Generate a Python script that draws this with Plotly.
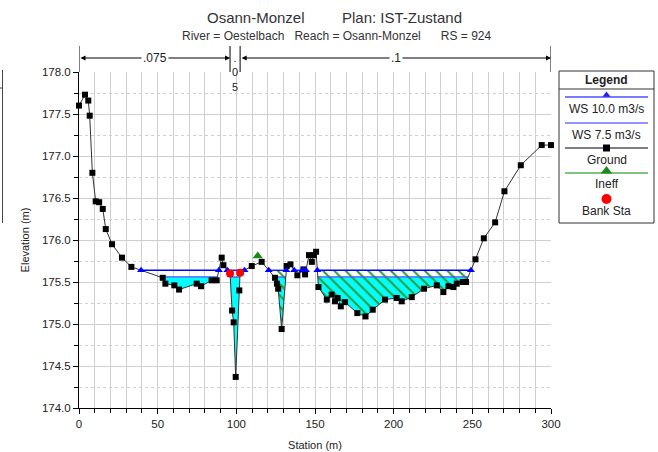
import plotly.graph_objects as go

# ---------------- data ----------------
ground_x = [0, 3.8, 5.9, 6.8, 8.5, 10.6, 12.8, 15.1, 17.0, 21.0, 27.3, 33.3,
            53.2, 54.9, 60.6, 63.6, 74.8, 77.6, 84.3, 87.5, 90.7, 91.8,
            96.0, 97.3, 98.3, 99.6, 101.9, 102.4, 109.8, 116.1,
            124.6, 125.8, 126.6, 128.8, 132.0, 134.4, 138.8, 142.6, 143.7,
            146.2, 148.0, 149.2, 150.7, 152.2, 157.5, 160.6, 162.7, 164.4,
            166.4, 169.1, 176.9, 182.1, 186.7, 194.5, 201.9, 205.1, 211.5,
            219.3, 227.4, 231.6, 234.8, 238.0, 240.1, 243.9, 246.0, 252.0,
            257.3, 264.5, 270.4, 280.8, 294.1, 300.0]
ground_y = [177.60, 177.73, 177.66, 177.48, 176.80, 176.46, 176.45, 176.37, 176.13, 175.95, 175.79, 175.68,
            175.55, 175.48, 175.46, 175.41, 175.48, 175.45, 175.52, 175.52, 175.79, 175.70,
            175.60, 175.16, 175.02, 174.37, 175.40, 175.61, 175.69, 175.74,
            175.55, 175.48, 175.42, 174.94, 175.69, 175.71, 175.58, 175.65, 175.59,
            175.82, 175.74, 175.82, 175.86, 175.44, 175.29, 175.35, 175.27, 175.31,
            175.21, 175.26, 175.13, 175.09, 175.17, 175.29, 175.31, 175.27, 175.32,
            175.42, 175.46, 175.38, 175.45, 175.44, 175.48, 175.50, 175.50, 175.77,
            176.02, 176.21, 176.58, 176.89, 177.13, 177.13]
ws10 = 175.64          # WS 10.0 m3/s
ws75 = 175.56          # WS 7.5 m3/s
bank_x = [96.0, 102.4]
ineff_x = [113.6]
ineff_y = [175.81]
n_values = [".075", ".05", ".1"]
n_breaks = [0, 96.0, 102.4, 300]

W, H = 658, 452
def px(x):  # figure pixel -> paper x
    return x / W
def py(y):  # figure pixel -> paper y
    return 1 - y / H

# ---------------- geometry helpers ----------------
def interp(x, xs, ys):
    for i in range(len(xs) - 1):
        if xs[i] <= x <= xs[i + 1]:
            t = (x - xs[i]) / (xs[i + 1] - xs[i]) if xs[i + 1] != xs[i] else 0
            return ys[i] + t * (ys[i + 1] - ys[i])
    return ys[-1]

def densify(xs, ys, levels, splits):
    out = [(xs[0], ys[0])]
    for i in range(len(xs) - 1):
        x0, y0, x1, y1 = xs[i], ys[i], xs[i + 1], ys[i + 1]
        extra = []
        for h in levels:
            if (y0 - h) * (y1 - h) < 0:
                extra.append(x0 + (h - y0) / (y1 - y0) * (x1 - x0))
        for s in splits:
            if x0 < s < x1:
                extra.append(s)
        for xe in sorted(extra):
            t = (xe - x0) / (x1 - x0)
            out.append((xe, y0 + t * (y1 - y0)))
        out.append((x1, y1))
    return out

dense = densify(ground_x, ground_y, [ws10, ws75], ineff_x)

def runs_below(h, a, b):
    runs, cur = [], []
    for (x, y) in dense:
        if a - 1e-9 <= x <= b + 1e-9 and y <= h + 1e-9:
            cur.append((x, y))
        else:
            if len(cur) > 1:
                runs.append(cur)
            cur = []
    if len(cur) > 1:
        runs.append(cur)
    return runs

def poly_below(h, a, b):
    X, Y = [], []
    for r in runs_below(h, a, b):
        X += [r[0][0]] + [p[0] for p in r] + [r[-1][0], None]
        Y += [h] + [p[1] for p in r] + [h, None]
    return X, Y

def poly_band(h1, h2, a, b):
    X, Y = [], []
    for r in runs_below(h2, a, b):
        X += [r[0][0]] + [p[0] for p in r] + [r[-1][0], None]
        Y += [h2] + [max(p[1], h1) for p in r] + [h2, None]
    return X, Y

def level_line(h):
    X, Y, MX, MY = [], [], [], []
    for r in runs_below(h, 0, 300):
        X += [r[0][0], r[-1][0], None]
        Y += [h, h, None]
        MX += [r[0][0], r[-1][0]]
        MY += [h, h]
    return X, Y, MX, MY

split = ineff_x[0]
green = "#2e9a2e"

fig = go.Figure()

# fills
bx, by = poly_band(ws75, ws10, split, 300)
fig.add_trace(go.Scatter(x=bx, y=by, mode="lines", fill="toself", line=dict(width=0),
                         fillcolor="white",
                         fillpattern=dict(shape="\\", fgcolor=green, bgcolor="white", size=8, solidity=0.25),
                         hoverinfo="skip", showlegend=False))
cx, cy = poly_below(ws75, split, 300)
fig.add_trace(go.Scatter(x=cx, y=cy, mode="lines", fill="toself", line=dict(width=0),
                         fillcolor="#00ffff",
                         fillpattern=dict(shape="\\", fgcolor=green, bgcolor="#00ffff", size=8, solidity=0.25),
                         hoverinfo="skip", showlegend=False))
lx, ly = poly_below(ws75, 0, split)
fig.add_trace(go.Scatter(x=lx, y=ly, mode="lines", fill="toself", line=dict(width=0),
                         fillcolor="#00ffff", hoverinfo="skip", showlegend=False))

# water surfaces
x75, y75, _, _ = level_line(ws75)
fig.add_trace(go.Scatter(x=x75, y=y75, mode="lines", line=dict(color="#4f4fff", width=1.3),
                         hoverinfo="skip", showlegend=False))
x10, y10, mx10, my10 = level_line(ws10)
fig.add_trace(go.Scatter(x=x10, y=y10, mode="lines", line=dict(color="#0000ff", width=1.3),
                         hoverinfo="skip", showlegend=False))

# ground
fig.add_trace(go.Scatter(x=ground_x, y=ground_y, mode="lines+markers",
                         line=dict(color="#333333", width=1),
                         marker=dict(symbol="square", size=6, color="black"),
                         cliponaxis=False, showlegend=False))
fig.add_trace(go.Scatter(x=mx10, y=my10, mode="markers",
                         marker=dict(symbol="triangle-up", size=7, color="#0000ff"),
                         showlegend=False))
# bank stations
bank_y = [interp(b, ground_x, ground_y) for b in bank_x]
fig.add_trace(go.Scatter(x=bank_x, y=bank_y, mode="markers",
                         marker=dict(symbol="circle", size=8, color="#ff0000"),
                         showlegend=False))
# ineffective
fig.add_trace(go.Scatter(x=ineff_x, y=ineff_y, mode="markers",
                         marker=dict(symbol="triangle-up", size=9, color="#1a8a1a"),
                         showlegend=False))

# ---------------- legend (drawn in its own little axes) ----------------
LX0, LX1 = 565, 648
leg = [
    (97, "#4f4fff", "triangle-up", "#2020ff", 7),
    (123, "#6f6fff", None, None, 0),
    (148, "#555555", "square", "black", 7),
    (173, "#55b055", "triangle-up", "#1a8a1a", 10),
]
for yy, lc, sym, mc, ms in leg:
    fig.add_trace(go.Scatter(x=[LX0, LX1], y=[yy, yy], xaxis="x2", yaxis="y2", mode="lines",
                             line=dict(color=lc, width=1.5), showlegend=False, hoverinfo="skip"))
    if sym:
        fig.add_trace(go.Scatter(x=[(LX0 + LX1) / 2], y=[yy - (2 if sym == "triangle-up" else 0)],
                                 xaxis="x2", yaxis="y2", mode="markers",
                                 marker=dict(symbol=sym, size=ms, color=mc),
                                 showlegend=False, hoverinfo="skip"))
fig.add_trace(go.Scatter(x=[(LX0 + LX1) / 2], y=[199], xaxis="x2", yaxis="y2", mode="markers",
                         marker=dict(symbol="circle", size=10, color="#ff0000"),
                         showlegend=False, hoverinfo="skip"))

font = "Liberation Sans, Arial, sans-serif"
ann = []
for txt, yy, bold in [("Legend", 80, True), ("WS 10.0 m3/s", 109, False), ("WS 7.5 m3/s", 135, False),
                      ("Ground", 160, False), ("Ineff", 184, False), ("Bank Sta", 211, False)]:
    ann.append(dict(x=px(606.5), y=py(yy), xref="paper", yref="paper", showarrow=False,
                    text=f"<b>{txt}</b>" if bold else txt, font=dict(size=12, color="#222", family=font),
                    xanchor="center", yanchor="middle"))

shapes = [
    dict(type="rect", xref="paper", yref="paper", x0=px(559), x1=px(654), y0=py(223), y1=py(71),
         line=dict(color="#333", width=1)),
    dict(type="line", xref="paper", yref="paper", x0=px(559), x1=px(654), y0=py(89), y1=py(89),
         line=dict(color="#333", width=1)),
    # cropped artefact at left edge
    dict(type="line", xref="paper", yref="paper", x0=px(2.5), x1=px(2.5), y0=py(70), y1=py(223),
         line=dict(color="#444", width=1)),
    dict(type="line", xref="paper", yref="paper", x0=px(0), x1=px(3), y0=py(88), y1=py(88),
         line=dict(color="#444", width=1)),
]

# Manning's n bars on top
ARROW_Y = 58
for b in n_breaks:
    shapes.append(dict(type="line", xref="x", yref="paper", x0=b, x1=b, y0=py(46), y1=py(72),
                       line=dict(color="black", width=1)))
for i in (0, 2):
    a, b = n_breaks[i], n_breaks[i + 1]
    ann.append(dict(x=b, y=py(ARROW_Y), ax=a, ay=0, xref="x", yref="paper", axref="x", ayref="pixel",
                    text="", showarrow=True, arrowhead=2, arrowside="end+start", arrowsize=1,
                    arrowwidth=1, arrowcolor="black"))
    ann.append(dict(x=(a + b) / 2, y=py(ARROW_Y), xref="x", yref="paper", text=n_values[i],
                    showarrow=False, bgcolor="white", font=dict(size=12, color="#222", family=font),
                    xanchor="center", yanchor="middle", borderpad=1))
mid = (n_breaks[1] + n_breaks[2]) / 2
ann.append(dict(x=mid, y=py(73), xref="x", yref="paper", text="<br>".join(list(n_values[1])),
                showarrow=False, font=dict(size=11, color="#222", family=font),
                xanchor="center", yanchor="middle", borderpad=0))

# titles
ann.append(dict(x=px(256), y=py(17), xref="paper", yref="paper", text="Osann-Monzel", showarrow=False,
                font=dict(size=15, color="#333", family=font), xanchor="center", yanchor="middle"))
ann.append(dict(x=px(402), y=py(17), xref="paper", yref="paper", text="Plan: IST-Zustand", showarrow=False,
                font=dict(size=15, color="#333", family=font), xanchor="center", yanchor="middle"))
ann.append(dict(x=px(336), y=py(36), xref="paper", yref="paper",
                text="River = Oestelbach&nbsp;&nbsp;&nbsp;Reach = Osann-Monzel&nbsp;&nbsp;&nbsp;&nbsp;&nbsp;&nbsp;RS = 924",
                showarrow=False, font=dict(size=12, color="#333", family=font), xanchor="center", yanchor="middle"))

grid = "#cfcfcf"
fig.update_layout(
    template="none",
    width=W, height=H, margin=dict(l=0, r=0, t=0, b=0, autoexpand=False),
    paper_bgcolor="white", plot_bgcolor="white",
    font=dict(family=font, size=11, color="#222"),
    showlegend=False,
    xaxis=dict(domain=[px(79), px(551)], range=[0, 300], dtick=50, ticks="outside", ticklen=5,
               tickcolor="black", showline=True, linecolor="black", linewidth=1, zeroline=False,
               showgrid=True, gridcolor=grid, gridwidth=1, automargin=False,
               minor=dict(dtick=10, ticks="outside", ticklen=4, tickcolor="black", showgrid=True,
                          gridcolor=grid, gridwidth=1),
               title=dict(text="Station (m)", font=dict(size=11), standoff=12),
               tickfont=dict(size=11.5)),
    yaxis=dict(domain=[py(408), py(72)], range=[174, 178], dtick=0.5, tickformat=".1f", ticks="outside",
               ticklen=5, tickcolor="black", showline=True, linecolor="black", linewidth=1, zeroline=False,
               showgrid=True, gridcolor=grid, gridwidth=1, automargin=False,
               minor=dict(dtick=0.25, ticks="outside", ticklen=4, tickcolor="black", showgrid=True,
                          gridcolor=grid, gridwidth=1, griddash="dot"),
               title=dict(text="Elevation (m)", font=dict(size=11), standoff=10),
               tickfont=dict(size=11.5)),
    xaxis2=dict(domain=[px(559), px(654)], range=[559, 654], visible=False, anchor="y2"),
    yaxis2=dict(domain=[py(223), py(71)], range=[223, 71], visible=False, anchor="x2"),
    shapes=shapes, annotations=ann,
)

fig.write_html("out.html", config={"displayModeBar": False},
               post_script="document.body.style.margin='0';document.body.style.overflow='hidden';")
